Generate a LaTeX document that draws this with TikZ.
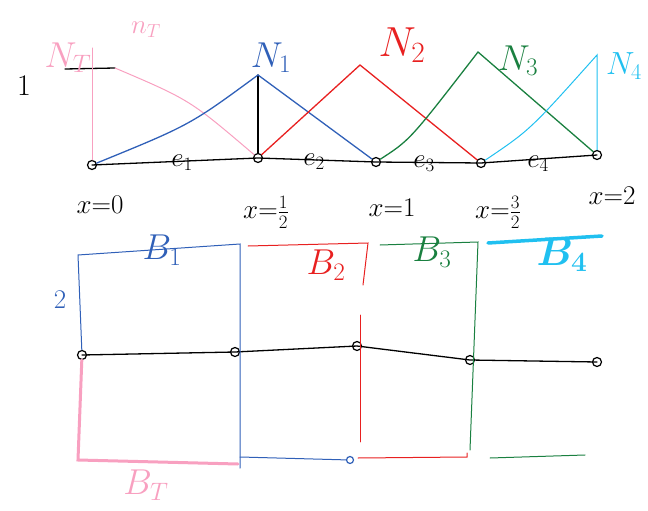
\RequirePackage{fix-cm}
\documentclass[tikz,border=0pt]{standalone}
\definecolor{nblue}{RGB}{48,96,184}
\definecolor{nred}{RGB}{232,32,32}
\definecolor{ngreen}{RGB}{26,128,64}
\definecolor{ncyan}{RGB}{32,192,240}
\definecolor{npink}{RGB}{248,160,192}
\begin{document}
\begin{tikzpicture}[x=1pt,y=-1pt,line width=1.3pt,line cap=round,
  dot/.style={draw=black,circle,inner sep=0pt,minimum size=9pt,line width=1.2pt},
  lab/.style={font=\fontsize{36}{38}\selectfont},
  small/.style={font=\fontsize{27}{29}\selectfont}]
  \useasboundingbox (0,0) rectangle (648,511);
  % top: nodes on the line
  \foreach \n/\x/\y in {a0/92/165,a1/258/158,a2/376/162,a3/481/163,a4/597/155}{ \node[dot] (\n) at (\x,\y) {}; }
  \foreach \n/\x/\y in {pT/92/48,p1/258/75,p2/360/65,p3/478/52,p4/597/55,t0/65/69,t1/115/68}{ \coordinate (\n) at (\x,\y); }
  \draw (a0.center) -- (a1.center) -- (a2.center) -- (a3.center) -- (a4.center);
  \draw (t0) -- (t1); \draw (a1) -- (p1);
  \draw[npink,line width=1pt] (a0) -- (pT);
  \draw[npink,line width=1pt] (t1) .. controls (190,100) .. (a1);
  \draw[nblue] (a0) .. controls (190,125) .. (p1) -- (a2);
  \draw[nred] (a1) -- (p2) -- (a3);
  \draw[ngreen] (a2) .. controls (410,140) .. (p3) -- (a4);
  \draw[ncyan,line width=1pt] (a3) .. controls (530,130) .. (p4) -- (a4);
  % top: labels
  \node[small,font=\fontsize{30}{32}\selectfont] (one) at (24,86) {$1$};
  \node[lab,npink] (lT) at (68,58) {$N_T$};
  \node[small,npink] (sT) at (146,30) {$n_T$};
  \node[lab,nblue] (l1) at (271,58) {$N_1$};
  \node[lab,nred,font=\fontsize{42}{44}\selectfont] (l2) at (402,45) {$N_2$};
  \node[lab,ngreen] (l3) at (518,61) {$N_3$};
  \node[lab,ncyan,font=\fontsize{32}{34}\selectfont] (l4) at (624,66) {$N_4$};
  \foreach \i/\x/\y in {1/182/163,2/314/162,3/424/164,4/538/164}{ \node[small] (e\i) at (\x,\y) {$e_\i$}; }
  \node[small] (x0) at (100,205) {$x{=}0$};
  \node[small] (x1) at (266,212) {$x{=}\frac{1}{2}$};
  \node[small] (x2) at (392,208) {$x{=}1$};
  \node[small] (x3) at (498,212) {$x{=}\frac{3}{2}$};
  \node[small] (x4) at (612,196) {$x{=}2$};
  % bottom: nodes on the line
  \foreach \n/\x/\y in {b0/82/355,b1/235/352,b2/357/346,b3/470/360,b4/597/362}{ \node[dot] (\n) at (\x,\y) {}; }
  \draw (b0.center) -- (b1.center) -- (b2.center) -- (b3.center) -- (b4.center);
  \foreach \n/\x/\y in {q0/78/255,q1/240/244,q2/240/468,q3/78/460,q4/238/464,q5/240/457,
    r0/248/246,r1/368/243,r2/363/285,r3/360/315,r4/360/442,r5/358/458,r6/467/457,
    g0/380/245,g1/478/242,g2/470/450,g3/490/458,g4/585/455,c0/488/243,c1/602/236}{ \coordinate (\n) at (\x,\y); }
  \node[draw=nblue,circle,inner sep=0pt,minimum size=7pt,line width=1.2pt] (bb) at (350,460) {};
  \draw[nblue,line width=1pt] (b0) -- (q0) -- (q1) -- (q2);
  \draw[nblue,line width=1pt] (q5) -- (bb);
  \draw[npink,line width=3pt] (b0) -- (q3) -- (q4);
  \draw[nred,line width=1pt] (r0) -- (r1) -- (r2);
  \draw[nred,line width=0.6pt] (r3) -- (r4);
  \draw[nred,line width=1pt] (r5) -- (r6) -- ++(0,-4);
  \draw[ngreen,line width=1pt] (g0) -- (g1) -- (g2);
  \draw[ngreen,line width=1pt] (g3) -- (g4);
  \draw[ncyan,line width=3.5pt] (c0) -- (c1);
  % bottom: labels
  \node[small,nblue] (h) at (60,300) {$2$};
  \node[lab,nblue] (B1) at (162,250) {$B_1$};
  \node[lab,nred] (B2) at (326,265) {$B_2$};
  \node[lab,ngreen] (B3) at (432,252) {$B_3$};
  \node[lab,ncyan,font=\fontsize{40}{42}\selectfont\boldmath] (B4) at (562,255) {$B_4$};
  \node[lab,npink] (BT) at (146,485) {$B_T$};
\end{tikzpicture}
\end{document}
